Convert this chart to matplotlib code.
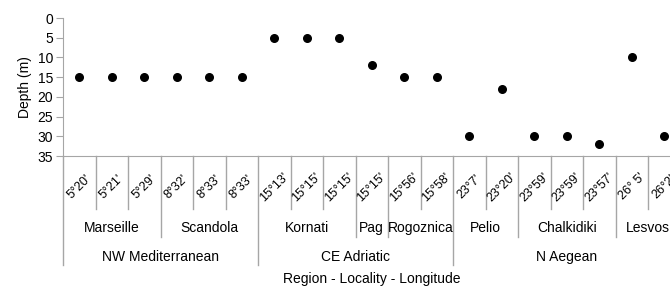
import matplotlib
matplotlib.use("Agg")
import matplotlib.pyplot as plt
import matplotlib.transforms as mtransforms

plt.rcParams['font.family'] = ['Liberation Sans', 'DejaVu Sans']

longitudes = ["5°20'", "5°21'", "5°29'", "8°32'", "8°33'", "8°33'",
              "15°13'", "15°15'", "15°15'", "15°15'", "15°56'", "15°58'",
              "23°7'", "23°20'", "23°59'", "23°59'", "23°57'", "26° 5'", "26°2'"]
depths = [15, 15, 15, 15, 15, 15, 5, 5, 5, 12, 15, 15, 30, 18, 30, 30, 32, 10, 30]
localities = ["Marseille", "Scandola", "Kornati", "Pag", "Rogoznica", "Pelio", "Chalkidiki", "Lesvos"]
locality_counts = [3, 3, 3, 1, 2, 2, 3, 2]
regions = ["NW Mediterranean", "CE Adriatic", "N Aegean"]
region_counts = [6, 6, 7]

W, H = 670, 286
fig = plt.figure(figsize=(W / 100, H / 100), dpi=100)
left_px, right_px, top_px, bot_px = 63, 680.5, 18, 156
ax = fig.add_axes([left_px / W, 1 - bot_px / H, (right_px - left_px) / W, (bot_px - top_px) / H])

n = len(depths)
x = list(range(n))
ax.scatter(x, depths, s=30, color='black', zorder=3, clip_on=False)
ax.set_xlim(-0.5, n - 0.5)
ax.set_ylim(35, 0)
ax.set_yticks(range(0, 36, 5))
ax.set_xticks([])
grey = '#a6a6a6'
for s in ['top', 'right']:
    ax.spines[s].set_visible(False)
ax.spines['left'].set_color(grey)
ax.spines['bottom'].set_color(grey)
ax.tick_params(axis='y', colors=grey, labelcolor='black', labelsize=10, length=5, width=0.8, pad=2)
ax.set_ylabel('Depth (m)', fontsize=10, labelpad=4)

ah = bot_px - top_px
trans = mtransforms.blended_transform_factory(ax.transData, ax.transAxes)
y_minor = -53 / ah
y_loc = -81 / ah
y_reg = -109 / ah

# boundaries
loc_bounds = []
c = 0
for k in locality_counts:
    c += k
    loc_bounds.append(c - 0.5)
reg_bounds = [-0.5]
c = 0
for k in region_counts:
    c += k
    reg_bounds.append(c - 0.5)

for b in [i - 0.5 for i in range(n + 1)]:
    if b in reg_bounds:
        yb = y_reg
    elif b in loc_bounds:
        yb = y_loc
    else:
        yb = y_minor
    ax.plot([b, b], [0, yb], transform=trans, color=grey, lw=1.0, clip_on=False)

for i, lab in enumerate(longitudes):
    ax.text(i, -31 / ah, lab, transform=trans, rotation=45, ha='center', va='center',
            fontsize=9, rotation_mode='anchor')

c = 0
for lab, k in zip(localities, locality_counts):
    ax.text(c + (k - 1) / 2, -72 / ah, lab, transform=trans, ha='center', va='center', fontsize=10)
    c += k
c = 0
for lab, k in zip(regions, region_counts):
    ax.text(c + (k - 1) / 2, -101 / ah, lab, transform=trans, ha='center', va='center', fontsize=10)
    c += k

ax.text(0.5, -123 / ah, 'Region - Locality - Longitude', transform=ax.transAxes,
        ha='center', va='center', fontsize=10)

fig.savefig('out.png', dpi=100)
